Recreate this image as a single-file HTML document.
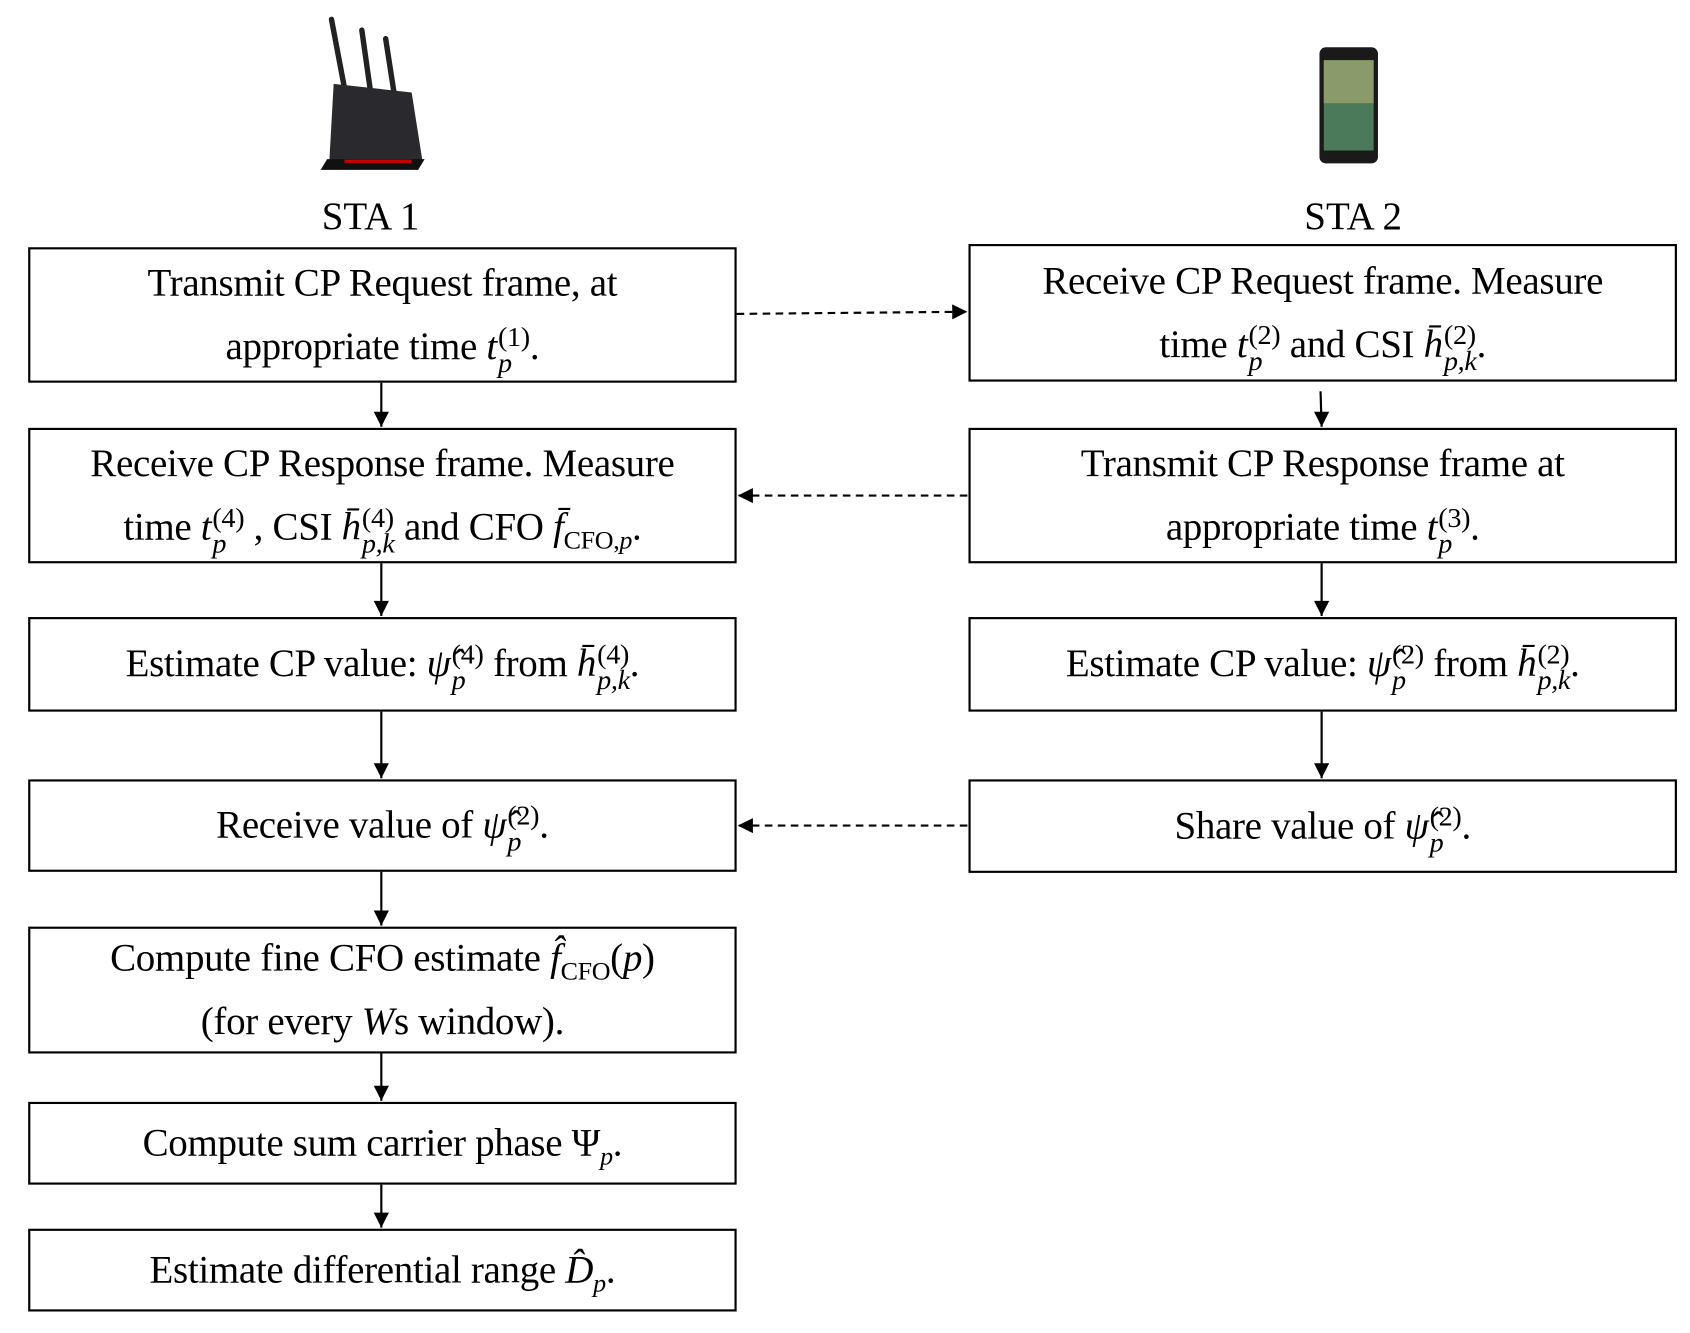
<!DOCTYPE html>
<html><head><meta charset="utf-8"><style>
html,body{margin:0;padding:0;background:#fff;width:1690px;height:1333px;overflow:hidden}
#w{position:absolute;left:0;top:0;width:1560px;height:1240px;transform:scale(1.0833,1.075);transform-origin:0 0;font-family:"Liberation Serif",serif;color:#000}
.b{position:absolute;border:2px solid #000;box-sizing:border-box;display:flex;flex-direction:column;align-items:center;justify-content:center;font-size:36px;line-height:1.65;text-align:center;white-space:nowrap;letter-spacing:-0.3px}
i{font-style:italic}
sub{font-size:24px;line-height:0}
.ss{display:inline-block;vertical-align:middle;line-height:1;font-size:26px;text-align:left;margin-left:1px;font-style:normal}
.ss span{display:block}
.ss .lo{font-style:italic;margin-top:-2px}
.lbl{position:absolute;font-size:36px}
</style></head><body><div id="w">
<svg width="1560" height="1240" style="position:absolute;left:0;top:0">
<defs><marker id="a" markerWidth="16" markerHeight="16" refX="15" refY="8" orient="auto" markerUnits="userSpaceOnUse"><path d="M1,1L15,8L1,15z" fill="#000"/></marker>
<marker id="v" markerWidth="16" markerHeight="16" refX="8" refY="15" orient="0" markerUnits="userSpaceOnUse"><path d="M1,1L15,1L8,15z" fill="#000"/></marker></defs>
<g stroke="#000" stroke-width="2" fill="none">
<line x1="352" y1="356" x2="352" y2="397" marker-end="url(#v)"/>
<line x1="352" y1="524" x2="352" y2="573" marker-end="url(#v)"/>
<line x1="352" y1="662" x2="352" y2="724" marker-end="url(#v)"/>
<line x1="352" y1="811" x2="352" y2="861" marker-end="url(#v)"/>
<line x1="352" y1="980" x2="352" y2="1024" marker-end="url(#v)"/>
<line x1="352" y1="1102" x2="352" y2="1142" marker-end="url(#v)"/>
<line x1="1219" y1="364" x2="1220" y2="397" marker-end="url(#v)"/>
<line x1="1220" y1="524" x2="1220" y2="573" marker-end="url(#v)"/>
<line x1="1220" y1="662" x2="1220" y2="724" marker-end="url(#v)"/>
<g stroke-dasharray="7,5">
<line x1="680" y1="292" x2="893" y2="290" marker-end="url(#a)"/>
<line x1="893" y1="461" x2="681" y2="461" marker-end="url(#a)"/>
<line x1="893" y1="768" x2="681" y2="768" marker-end="url(#a)"/>
</g></g>
<g stroke="#222" stroke-width="5" stroke-linecap="round"><line x1="306" y1="18" x2="318" y2="82"/><line x1="334" y1="28" x2="342" y2="85"/><line x1="356" y1="36" x2="364" y2="88"/></g>
<path d="M308,78 L380,86 L390,150 L304,150 Z" fill="#2a2a2e"/>
<path d="M302,148 L392,148 L386,158 L296,158 Z" fill="#111"/>
<path d="M318,150 L380,150" stroke="#c00" stroke-width="3"/>
<rect x="1218" y="44" width="54" height="108" rx="6" fill="#1a1a1a"/>
<rect x="1222" y="56" width="46" height="84" fill="#4a7a5a"/>
<rect x="1222" y="56" width="46" height="40" fill="#8a9a6a"/>
</svg>
<div class="lbl" style="left:297px;top:180px">STA 1</div>
<div class="lbl" style="left:1204px;top:180px">STA 2</div>

<div class="b" style="left:26px;top:230px;width:654px;height:126px"><div>Transmit CP Request frame, at</div><div>appropriate time <i>t</i><span class="ss"><span>(1)</span><span class="lo">p</span></span>.</div></div>
<div class="b" style="left:26px;top:398px;width:654px;height:126px"><div>Receive CP Response frame. Measure</div><div>time <i>t</i><span class="ss"><span>(4)</span><span class="lo">p</span></span> , CSI <i>h̄</i><span class="ss"><span>(4)</span><span class="lo">p,k</span></span> and CFO <i>f̄</i><sub>CFO,<i>p</i></sub>.</div></div>
<div class="b" style="left:26px;top:574px;width:654px;height:88px"><div>Estimate CP value: <i>ψ̂</i><span class="ss"><span>(4)</span><span class="lo">p</span></span> from <i>h̄</i><span class="ss"><span>(4)</span><span class="lo">p,k</span></span>.</div></div>
<div class="b" style="left:26px;top:725px;width:654px;height:86px"><div>Receive value of <i>ψ̂</i><span class="ss"><span>(2)</span><span class="lo">p</span></span>.</div></div>
<div class="b" style="left:26px;top:862px;width:654px;height:118px"><div>Compute fine CFO estimate <i>f̂</i><sub>CFO</sub>(<i>p</i>)</div><div>(for every <i>W</i>s window).</div></div>
<div class="b" style="left:26px;top:1025px;width:654px;height:77px"><div>Compute sum carrier phase Ψ<sub><i>p</i></sub>.</div></div>
<div class="b" style="left:26px;top:1143px;width:654px;height:77px"><div>Estimate differential range <i>D̂</i><sub><i>p</i></sub>.</div></div>

<div class="b" style="left:894px;top:227px;width:654px;height:128px"><div>Receive CP Request frame. Measure</div><div>time <i>t</i><span class="ss"><span>(2)</span><span class="lo">p</span></span> and CSI <i>h̄</i><span class="ss"><span>(2)</span><span class="lo">p,k</span></span>.</div></div>
<div class="b" style="left:894px;top:398px;width:654px;height:126px"><div>Transmit CP Response frame at</div><div>appropriate time <i>t</i><span class="ss"><span>(3)</span><span class="lo">p</span></span>.</div></div>
<div class="b" style="left:894px;top:574px;width:654px;height:88px"><div>Estimate CP value: <i>ψ̂</i><span class="ss"><span>(2)</span><span class="lo">p</span></span> from <i>h̄</i><span class="ss"><span>(2)</span><span class="lo">p,k</span></span>.</div></div>
<div class="b" style="left:894px;top:725px;width:654px;height:87px"><div>Share value of <i>ψ̂</i><span class="ss"><span>(2)</span><span class="lo">p</span></span>.</div></div>
</div></body></html>
